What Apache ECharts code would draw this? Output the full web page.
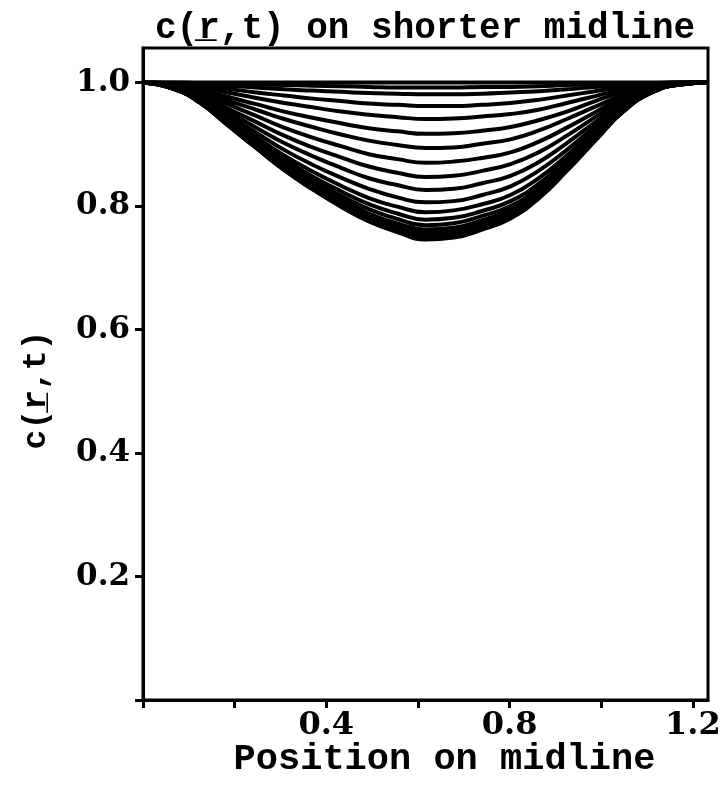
<!DOCTYPE html>
<html>
<head>
<meta charset="utf-8">
<title>c(r,t) on shorter midline</title>
<script src="https://cdn.jsdelivr.net/npm/echarts@6/dist/echarts.min.js"></script>
<style>
  html, body { margin: 0; padding: 0; background: #fff; }
  #chart { width: 728px; height: 790px; }
</style>
</head>
<body>
<div id="chart"></div>
<script>
// Sample positions along the midline
const positions = [0, 0.062, 0.123, 0.185, 0.247, 0.308, 0.370, 0.432, 0.493, 0.555, 0.617,
                   0.678, 0.740, 0.802, 0.863, 0.925, 0.987, 1.048, 1.110, 1.172, 1.233];

// Concentration profiles, one per time step (initial state first)
const c00 = [1, 1, 1, 1, 1, 1, 1, 1, 1, 1, 1, 1, 1, 1, 1, 1, 1, 1, 1, 1, 1];
const c01 = [1, 1, .999, .998, .997, .996, .995, .994, .993, .992, .992, .992, .993, .993, .994, .996, .997, .999, .999, 1, 1];
const c02 = [1, .999, .998, .995, .992, .989, .987, .985, .983, .982, .981, .981, .982, .984, .986, .989, .993, .996, .999, 1, 1];
const c03 = [1, .999, .995, .990, .984, .979, .974, .970, .966, .964, .962, .962, .964, .967, .972, .979, .986, .993, .998, 1, 1];
const c04 = [1, .998, .993, .984, .975, .967, .960, .953, .948, .944, .941, .942, .945, .949, .956, .967, .978, .989, .996, .999, 1];
const c05 = [1, .997, .990, .977, .965, .953, .943, .934, .926, .921, .917, .918, .922, .928, .939, .953, .970, .985, .995, .999, 1];
const c06 = [1, .996, .987, .971, .956, .941, .928, .916, .906, .899, .894, .895, .901, .908, .922, .941, .961, .980, .993, .999, 1];
const c07 = [1, .995, .984, .965, .946, .927, .911, .897, .884, .876, .870, .872, .878, .887, .904, .927, .952, .976, .992, .998, 1];
const c08 = [1, .994, .981, .958, .936, .914, .895, .879, .864, .854, .847, .849, .857, .868, .887, .914, .944, .972, .990, .998, 1];
const c09 = [1, .994, .978, .953, .927, .902, .881, .862, .845, .834, .826, .828, .837, .849, .871, .902, .936, .968, .989, .998, 1];
const c10 = [1, .993, .976, .947, .919, .891, .867, .846, .828, .814, .806, .808, .818, .832, .857, .891, .929, .964, .988, .998, 1];
const c11 = [1, .992, .974, .943, .912, .882, .856, .833, .813, .799, .790, .793, .803, .818, .845, .882, .923, .961, .987, .997, 1];
const c12 = [1, .992, .972, .939, .907, .876, .848, .824, .803, .788, .778, .781, .792, .808, .836, .876, .918, .959, .986, .997, 1];
const c13 = [1, .992, .971, .937, .903, .870, .842, .817, .795, .779, .769, .772, .784, .800, .829, .870, .915, .957, .985, .997, 1];
const c14 = [1, .991, .970, .935, .900, .867, .837, .811, .788, .772, .762, .765, .777, .794, .824, .867, .912, .956, .985, .997, 1];
const c15 = [1, .991, .969, .934, .898, .864, .834, .807, .784, .767, .757, .760, .772, .790, .820, .864, .911, .955, .985, .997, 1];
const c16 = [1, .991, .969, .933, .897, .861, .831, .804, .780, .764, .753, .756, .769, .786, .818, .861, .909, .954, .984, .997, 1];
const c17 = [1, .991, .969, .932, .895, .860, .829, .802, .778, .761, .750, .753, .766, .784, .815, .860, .908, .954, .984, .997, 1];
const c18 = [1, .991, .968, .931, .894, .859, .828, .800, .776, .759, .748, .751, .764, .782, .814, .859, .907, .953, .984, .997, 1];
const c19 = [1, .991, .968, .931, .894, .858, .827, .799, .775, .758, .746, .749, .762, .780, .812, .857, .906, .953, .984, .997, 1];

const profiles = [c00, c01, c02, c03, c04, c05, c06, c07, c08, c09,
                  c10, c11, c12, c13, c14, c15, c16, c17, c18, c19];

// Axis ticks and labelled values
const xTicks = [0, 0.2, 0.4, 0.6, 0.8, 1.0, 1.2];
const xTickLabels = [0.4, 0.8, 1.2];
const yTicks = [0, 0.2, 0.4, 0.6, 0.8, 1.0];
const yTickLabels = [0.2, 0.4, 0.6, 0.8, 1.0];

const TEXT_FONT = '"Liberation Mono", "DejaVu Sans Mono", monospace';
const NUM_FONT = '"DejaVu Serif", serif';
const INK = '#000';

const chart = echarts.init(document.getElementById('chart'), null, { renderer: 'canvas' });

const series = profiles.map((vals, k) => ({
  type: 'line',
  name: 't' + k,
  data: positions.map((x, i) => [x, vals[i]]),
  showSymbol: false,
  smooth: 0.5,
  silent: true,
  lineStyle: { color: INK, width: 4 },
  emphasis: { disabled: true }
}));

chart.setOption({
  animation: false,
  backgroundColor: '#fff',
  title: {
    text: 'c(r\u0332,t) on shorter midline',
    left: 150,
    top: 6,
    textStyle: { fontFamily: TEXT_FONT, fontWeight: 'bold', fontSize: 36, color: INK }
  },
  grid: {
    left: 143, right: 20, top: 48, bottom: 90,
    show: true, borderColor: INK, borderWidth: 3, backgroundColor: 'transparent'
  },
  xAxis: {
    type: 'value',
    min: 0, max: 1.233,
    name: 'Position on midline',
    nameLocation: 'middle',
    nameGap: 41,
    nameMoveOverlap: false,
    nameTextStyle: { fontFamily: TEXT_FONT, fontWeight: 'bold', fontSize: 37, color: INK, padding: [0, 0, 0, 38] },
    axisLine: { show: true, lineStyle: { color: INK, width: 3 } },
    axisTick: { show: true, customValues: xTicks, length: 8, lineStyle: { color: INK, width: 3 } },
    axisLabel: {
      customValues: xTickLabels,
      formatter: v => v.toFixed(1),
      margin: 10,
      fontFamily: NUM_FONT, fontWeight: 'bold', fontSize: 32, color: INK
    },
    splitLine: { show: false }
  },
  yAxis: {
    type: 'value',
    min: 0, max: 1.056,
    name: 'c(r\u0332,t)',
    nameLocation: 'middle',
    nameRotate: 90,
    nameGap: 90,
    nameMoveOverlap: false,
    nameTextStyle: { fontFamily: TEXT_FONT, fontWeight: 'bold', fontSize: 33, color: INK, padding: [0, 32, 0, 0] },
    axisLine: { show: true, lineStyle: { color: INK, width: 3 } },
    axisTick: { show: true, customValues: yTicks, length: 8, lineStyle: { color: INK, width: 3 } },
    axisLabel: {
      customValues: yTickLabels,
      formatter: v => v.toFixed(1),
      margin: 13,
      fontFamily: NUM_FONT, fontWeight: 'bold', fontSize: 31, color: INK
    },
    splitLine: { show: false }
  },
  series: series
});
</script>
</body>
</html>
